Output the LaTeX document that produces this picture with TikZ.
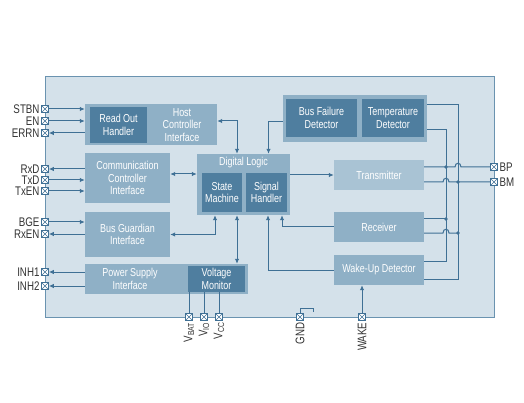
\documentclass[tikz,border=0pt]{standalone}
\usepackage{fontspec}
\setmainfont{Liberation Sans}[FakeStretch=0.78]
\usepackage{tikz}
\usetikzlibrary{positioning,calc,arrows.meta}
\definecolor{chipbg}{HTML}{D4E1EA}
\definecolor{chipline}{HTML}{6A93B0}
\definecolor{midblue}{HTML}{8FB0C6}
\definecolor{liteblue}{HTML}{A9C3D4}
\definecolor{darkblue}{HTML}{4F7E9F}
\definecolor{wirec}{HTML}{3F7095}
\definecolor{pintext}{HTML}{333333}

\begin{document}
\begin{tikzpicture}[x=1pt, y=-1pt, font=\fontsize{11.5}{12.5}\selectfont,
    wire/.style={draw=wirec, line width=1pt},
    sig/.style={wire, -{Latex[length=5pt,width=4.5pt]}},
    dbl/.style={wire, {Latex[length=5pt,width=4.5pt]}-{Latex[length=5pt,width=4.5pt]}},
    blk/.style={fill=midblue, text=white, align=center, inner sep=0pt},
    innerblk/.style={blk, fill=darkblue},
    liteblk/.style={blk, fill=liteblue},
    iopad/.style={draw=wirec, fill=white, minimum size=7pt, inner sep=0pt, line width=0.6pt,
        path picture={\draw[wirec, line width=0.5pt]
            (path picture bounding box.north west) -- (path picture bounding box.south east)
            (path picture bounding box.south west) -- (path picture bounding box.north east);}},
    every label/.style={text=pintext, font=\fontsize{12.5}{13}\selectfont, inner sep=1.5pt}]
    \useasboundingbox (0,0) rectangle (524,403);

    % chip outline
    \node[draw=chipline, fill=chipbg, line width=1pt, minimum width=449pt, minimum height=240pt] (chip) at (269.5,197) {};

    % host side blocks
    \node[blk, minimum width=132pt, minimum height=41pt] (host) at (151,124.5) {};
    \node[innerblk, minimum width=57pt, minimum height=36pt] (readout) at (118.5,125) {Read Out\\Handler};
    \node[text=white, align=center] (hosttxt) at (182,125) {Host\\Controller\\Interface};
    \node[blk, minimum width=85pt, minimum height=50pt] (comm) at (127.5,178) {Communication\\Controller\\Interface};
    \node[blk, minimum width=85pt, minimum height=45pt] (busguard) at (127.5,234.5) {Bus Guardian\\Interface};
    \node[blk, minimum width=163pt, minimum height=30pt] (power) at (166.5,279) {};
    \node[text=white, align=center] (powertxt) at (130,279) {Power Supply\\Interface};
    \node[innerblk, minimum width=57pt, minimum height=26pt] (voltmon) at (216.5,279) {Voltage\\Monitor};

    % digital logic
    \node[blk, minimum width=93pt, minimum height=61pt] (diglogic) at (243.5,184.5) {};
    \node[text=white] (dltxt) at (243.5,163) {Digital Logic};
    \node[innerblk, minimum width=40pt, minimum height=39pt] (statem) at (222,192.5) {State\\Machine};
    \node[innerblk, minimum width=41pt, minimum height=39pt] (sigh) at (266.5,192.5) {Signal\\Handler};

    % bus side blocks
    \node[blk, minimum width=144pt, minimum height=47pt] (detect) at (355,118.5) {};
    \node[innerblk, minimum width=71pt, minimum height=38pt] (busfail) at (321.5,118) {Bus Failure\\Detector};
    \node[innerblk, minimum width=62pt, minimum height=38pt] (temp) at (393,118) {Temperature\\Detector};
    \node[liteblk, minimum width=90pt, minimum height=30pt] (tx) at (379,175) {Transmitter};
    \node[blk, minimum width=90pt, minimum height=30pt] (rx) at (379,227) {Receiver};
    \node[blk, minimum width=90pt, minimum height=30pt] (wakeup) at (379,270) {Wake-Up Detector};

    % pins
    \node[iopad, label=left:STBN] (stbn) at (45,109) {};
    \node[iopad, label=left:EN] (en) at (45,121) {};
    \node[iopad, label=left:ERRN] (errn) at (45,133) {};
    \node[iopad, label=left:RxD] (rxd) at (45,169) {};
    \node[iopad, label=left:TxD] (txd) at (45,180) {};
    \node[iopad, label=left:TxEN] (txen) at (45,191) {};
    \node[iopad, label=left:BGE] (bge) at (45,222) {};
    \node[iopad, label=left:RxEN] (rxen) at (45,234) {};
    \node[iopad, label=left:INH1] (inh1) at (45,272) {};
    \node[iopad, label=left:INH2] (inh2) at (45,286) {};
    \node[iopad, label=right:BP] (bp) at (494,167) {};
    \node[iopad, label=right:BM] (bm) at (494,182) {};
    \node[iopad, label={[rotate=90,anchor=east]below:V\textsubscript{BAT}}] (vbat) at (189,317) {};
    \node[iopad, label={[rotate=90,anchor=east]below:V\textsubscript{IO}}] (vio) at (204,317) {};
    \node[iopad, label={[rotate=90,anchor=east]below:V\textsubscript{CC}}] (vcc) at (219,317) {};
    \node[iopad, label={[rotate=90,anchor=east]below:GND}] (gnd) at (300,317) {};
    \node[iopad, label={[rotate=90,anchor=east]below:WAKE}] (wake) at (362,317) {};

    % left pin connections
    \draw[sig] (stbn) -- (stbn -| host.west);
    \draw[sig] (en) -- (en -| host.west);
    \draw[sig] (errn -| host.west) -- (errn);
    \draw[sig] (rxd -| comm.west) -- (rxd);
    \draw[sig] (txd) -- (txd -| comm.west);
    \draw[sig] (txen) -- (txen -| comm.west);
    \draw[sig] (bge) -- (bge -| busguard.west);
    \draw[sig] (rxen -| busguard.west) -- (rxen);
    \draw[sig] (inh1 -| power.west) -- (inh1);
    \draw[sig] (inh2 -| power.west) -- (inh2);

    % internal connections
    \draw[dbl] ([yshift=3.5pt]host.east) -| ([xshift=-6.5pt]diglogic.north);
    \draw[sig] ([yshift=-3.5pt]detect.west) -| ([xshift=25pt]diglogic.north);
    \draw[dbl] ([yshift=4pt]comm.east) -- ([yshift=4pt]comm.east -| diglogic.west);
    \draw[sig] (diglogic.east |- tx.west) -- (tx.west);
    \draw[dbl] (busguard.east) -| ([xshift=-28.5pt]diglogic.south);
    \draw[dbl] ([xshift=-6.5pt]diglogic.south) -- ([xshift=-6.5pt]diglogic.south |- power.north);
    \draw[sig] (rx.west) -| ([xshift=38.5pt]diglogic.south);
    \draw[sig] (wakeup.west) -| ([xshift=24.5pt]diglogic.south);

    % supply and wake pins
    \draw[wire] (vbat) -- (vbat |- voltmon.south);
    \draw[wire] (vio) -- (vio |- voltmon.south);
    \draw[wire] (vcc) -- (vcc |- voltmon.south);
    \draw[wire] (gnd) -- ++(0,-9) -- ++(13,0) -- ++(0,4);
    \draw[sig] (wake) -- (wake |- wakeup.south);

    % bus lines
    \coordinate (railA) at (446,200);
    \coordinate (railB) at (458,200);
    \coordinate (rxlo) at ([yshift=-6pt]rx.east);
    \draw[wire] ([yshift=13.5pt]detect.east) -| ($(railB |- wakeup.east)+(0,9)$) -- ([yshift=-9pt]wakeup.east);
    \draw[wire] ([yshift=-11.5pt]detect.east) -| ($(railA |- wakeup.east)+(0,-9)$) -- ([yshift=9pt]wakeup.east);
    \draw[wire] (bp -| tx.east) -- ($(bp -| railB)+(-3,0)$) .. controls +(0,-5) and +(0,-5) .. ($(bp -| railB)+(3,0)$) -- (bp);
    \draw[wire] (bm -| tx.east) -- ($(bm -| railA)+(-3,0)$) .. controls +(0,-5) and +(0,-5) .. ($(bm -| railA)+(3,0)$) -- (bm);
    \draw[wire] ([yshift=8pt]rx.east) -- ([yshift=8pt]rx.east -| railA);
    \draw[wire] (rxlo) -- ($(rxlo -| railA)+(-3,0)$) .. controls +(0,-5) and +(0,-5) .. ($(rxlo -| railA)+(3,0)$) -- (rxlo -| railB);
    \fill[wirec] (bp -| railA) circle (1.8pt);
    \fill[wirec] (bm -| railB) circle (1.8pt);
    \fill[wirec] ([yshift=8pt]rx.east -| railA) circle (1.8pt);
    \fill[wirec] (rxlo -| railB) circle (1.8pt);
\end{tikzpicture}
\end{document}
